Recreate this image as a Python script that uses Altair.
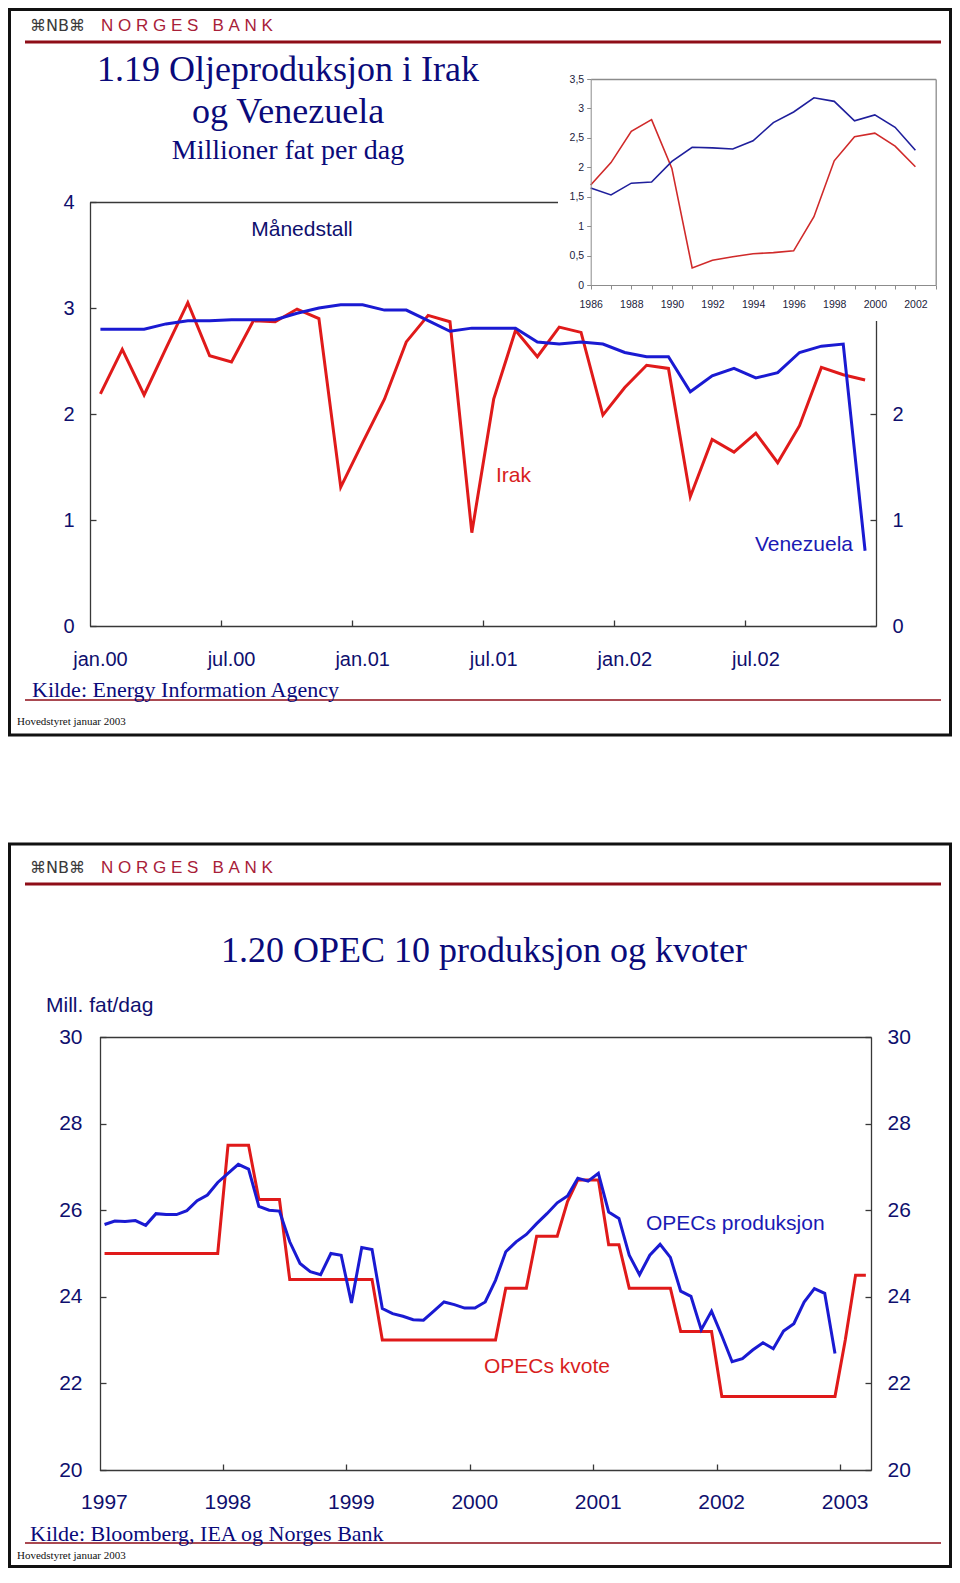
import json
import altair as alt
import pandas as pd

# ---------------- data ----------------
# 1.19 monthly, jan.2000 - des.2002, million barrels per day
IRAK_MONTHLY = [2.19, 2.61, 2.18, 2.62, 3.05, 2.55, 2.49, 2.88, 2.87, 2.99, 2.90, 1.31,
                1.73, 2.14, 2.68, 2.93, 2.87, 0.88, 2.14, 2.79, 2.54, 2.82, 2.77, 1.99,
                2.25, 2.46, 2.43, 1.22, 1.76, 1.64, 1.82, 1.54, 1.89, 2.44, 2.37, 2.32]
VENEZUELA_MONTHLY = [2.80, 2.80, 2.80, 2.85, 2.88, 2.88, 2.89, 2.89, 2.89, 2.95, 3.00, 3.03,
                     3.03, 2.98, 2.98, 2.88, 2.78, 2.81, 2.81, 2.81, 2.68, 2.66, 2.68, 2.66,
                     2.58, 2.54, 2.54, 2.21, 2.36, 2.43, 2.34, 2.39, 2.58, 2.64, 2.66, 0.71]
MONTHLY_TICK_LABELS = ["jan.00", "jul.00", "jan.01", "jul.01", "jan.02", "jul.02"]

# inset, annual 1986 - 2002
ANNUAL_YEARS = [1986, 1987, 1988, 1989, 1990, 1991, 1992, 1993, 1994, 1995, 1996,
                1997, 1998, 1999, 2000, 2001, 2002]
IRAK_ANNUAL = [1.70, 2.08, 2.61, 2.81, 1.98, 0.29, 0.42, 0.48, 0.53, 0.55, 0.58,
               1.16, 2.11, 2.52, 2.58, 2.36, 2.01]
VENEZUELA_ANNUAL = [1.65, 1.53, 1.73, 1.75, 2.10, 2.34, 2.33, 2.31, 2.45, 2.76, 2.94,
                    3.18, 3.12, 2.79, 2.89, 2.68, 2.29]

# 1.20 OPEC 10, monthly from jan.1997
OPEC_PRODUCTION = [25.67, 25.75, 25.74, 25.76, 25.65, 25.92, 25.90, 25.90, 25.99, 26.22, 26.35, 26.64,
                   26.85, 27.06, 26.95, 26.09, 26.00, 25.98, 25.27, 24.77, 24.58, 24.51, 25.00, 24.96,
                   23.86, 25.14, 25.09, 23.73, 23.61, 23.55, 23.47, 23.46, 23.67, 23.88, 23.82, 23.74,
                   23.74, 23.88, 24.38, 25.04, 25.27, 25.44, 25.69, 25.92, 26.17, 26.33, 26.74, 26.67,
                   26.85, 25.96, 25.81, 24.96, 24.51, 24.96, 25.21, 24.91, 24.13, 24.01, 23.24, 23.67,
                   23.10, 22.50, 22.57, 22.77, 22.94, 22.80, 23.21, 23.38, 23.88, 24.19, 24.08, 22.69]
OPEC_QUOTA = [25.0, 25.0, 25.0, 25.0, 25.0, 25.0, 25.0, 25.0, 25.0, 25.0, 25.0, 25.0,
              27.5, 27.5, 27.5, 26.25, 26.25, 26.25, 24.4, 24.4, 24.4, 24.4, 24.4, 24.4,
              24.4, 24.4, 24.4, 23.0, 23.0, 23.0, 23.0, 23.0, 23.0, 23.0, 23.0, 23.0,
              23.0, 23.0, 23.0, 24.2, 24.2, 24.2, 25.4, 25.4, 25.4, 26.2, 26.7, 26.7,
              26.7, 25.2, 25.2, 24.2, 24.2, 24.2, 24.2, 24.2, 23.2, 23.2, 23.2, 23.2,
              21.7, 21.7, 21.7, 21.7, 21.7, 21.7, 21.7, 21.7, 21.7, 21.7, 21.7, 21.7,
              23.0, 24.5, 24.5]
OPEC_YEAR_LABELS = ["1997", "1998", "1999", "2000", "2001", "2002", "2003"]

# ---------------- tables ----------------
monthly = pd.DataFrame({"m": [i + 0.5 for i in range(len(IRAK_MONTHLY))],
                        "irak": IRAK_MONTHLY, "ven": VENEZUELA_MONTHLY})
annual = pd.DataFrame({"year": ANNUAL_YEARS, "irak": IRAK_ANNUAL, "ven": VENEZUELA_ANNUAL})
prod = pd.DataFrame({"m": [i + 0.5 for i in range(len(OPEC_PRODUCTION))], "v": OPEC_PRODUCTION})
quota = pd.DataFrame({"m": [i + 0.5 for i in range(len(OPEC_QUOTA))], "v": OPEC_QUOTA})
one = pd.DataFrame({"k": [0]})

# ---------------- layout helpers ----------------
W, H = 944, 1560


def cx(X):
    return X - 8


def cy(Y):
    return Y - 8


SANS = "Liberation Sans"
SERIF = "Liberation Serif"
NAVY = "#0f0f6e"
TITLE = "#0a0a7a"
FRAME = "#383838"
GREY = "#8c8c8c"
RED = "#e01a1a"
BLUE = "#1a1ad2"
HEAD_RED = "#8e0d17"
NB_RED = "#a82038"


def ax(orient, offset, **kw):
    d = dict(orient=orient, offset=offset, title="", grid=False,
             labelFlush=False, labelOverlap=False)
    d.update(kw)
    return alt.Axis(**d)


def label_axis(orient, offset, values, size, pad, **kw):
    return ax(orient, offset, values=values, ticks=False, tickSize=0, domain=True,
              domainColor=kw.pop("domainColor", FRAME), domainWidth=1.3,
              labelFont=SANS, labelFontSize=size, labelColor=NAVY, labelPadding=pad, **kw)


def tick_axis(orient, offset, values, size=6, color=FRAME, **kw):
    return ax(orient, offset, values=values, labels=False, domain=False, ticks=True,
              tickSize=size, tickColor=color, tickWidth=1.3, **kw)


def line_axis(orient, offset, color=FRAME, **kw):
    return ax(orient, offset, labels=False, ticks=False, domain=True,
              domainColor=color, domainWidth=1.3, **kw)


# ---------------- chart 1.19 : monthly ----------------
S1X = alt.Scale(domain=[0, 36], range=[cx(89.5), cx(876)], nice=False, zero=False)
S1Y = alt.Scale(domain=[0, 4], range=[cy(626), cy(202)], nice=False, zero=False)
m_expr = json.dumps(MONTHLY_TICK_LABELS) + "[round(datum.value / 6)]"

irak_line = alt.Chart(monthly).mark_line(color=RED, strokeWidth=3).encode(
    x=alt.X("m:Q", scale=S1X, axis=label_axis(
        "bottom", cy(626) - H, [0, 6, 12, 18, 24, 30], 20, 39,
        labelExpr=m_expr, labelOffset=10.5, labelBaseline="alphabetic")),
    y=alt.Y("irak:Q", scale=S1Y, axis=label_axis(
        "left", -cx(90), [0, 1, 2, 3, 4], 20, 16, labelBaseline="middle")),
)
ven_line = alt.Chart(monthly).mark_line(color=BLUE, strokeWidth=3).encode(
    x=alt.X("m:Q", scale=S1X, axis=tick_axis("top", -cy(626), [6, 12, 18, 24, 30])),
    y=alt.Y("ven:Q", scale=S1Y, axis=tick_axis("right", cx(90) - W, [0, 1, 2, 3, 4])),
)
carrier1 = alt.Chart(monthly).mark_line(strokeOpacity=0).encode(
    x=alt.X("m:Q", scale=S1X, axis=line_axis("top", -cy(202))),
    y=alt.Y("ven:Q", scale=S1Y, axis=label_axis(
        "right", cx(876) - W, [0, 1, 2], 20, 16, labelBaseline="middle")),
)
carrier2 = alt.Chart(monthly).mark_line(strokeOpacity=0).encode(
    x=alt.X("m:Q", scale=S1X, axis=None),
    y=alt.Y("ven:Q", scale=S1Y, axis=tick_axis("left", -cx(876), [0, 1, 2, 3])),
)

# white panel behind the inset
inset_bg = alt.Chart(one).mark_rect(fill="white").encode(
    x=alt.value(cx(558)), x2=alt.value(cx(947)), y=alt.value(cy(50)), y2=alt.value(cy(321)))

# ---------------- inset : annual ----------------
SIX = alt.Scale(domain=[1986, 2003], range=[cx(590.7), cx(935.7)], nice=False, zero=False)
SIY = alt.Scale(domain=[0, 3.5], range=[cy(285), cy(79)], nice=False, zero=False)
INSET_LABEL = dict(labelFont=SANS, labelFontSize=10.5, labelColor="#1c1c3c")

irak_ann = alt.Chart(annual).mark_line(color="#d02a2a", strokeWidth=1.6).encode(
    x=alt.X("year:Q", scale=SIX, axis=ax(
        "bottom", cy(285) - H, values=list(range(1986, 2004)), format="d",
        labelExpr="datum.value % 2 == 0 && datum.value < 2003 ? datum.label : ''",
        ticks=True, tickSize=4, tickColor=GREY, domain=True, domainColor=GREY,
        labelPadding=18, labelBaseline="alphabetic", zindex=1, **INSET_LABEL)),
    y=alt.Y("irak:Q", scale=SIY, axis=ax(
        "left", -cx(590.7), values=[0, 0.5, 1, 1.5, 2, 2.5, 3, 3.5],
        labelExpr="replace(format(datum.value, '.1~f'), '.', ',')",
        ticks=True, tickSize=4, tickColor=GREY, domain=True, domainColor=GREY,
        labelPadding=3, labelBaseline="middle", zindex=1, **INSET_LABEL)),
)
ven_ann = alt.Chart(annual).mark_line(color="#1f1f9c", strokeWidth=1.6).encode(
    x=alt.X("year:Q", scale=SIX, axis=line_axis("top", -cy(79), color=GREY, zindex=1)),
    y=alt.Y("ven:Q", scale=SIY, axis=line_axis("right", cx(935.7) - W, color=GREY, zindex=1)),
)

# ---------------- chart 1.20 : OPEC ----------------
S2X = alt.Scale(domain=[0, 75], range=[cx(99.4), cx(871)], nice=False, zero=False)
S2Y = alt.Scale(domain=[20, 30], range=[cy(1470), cy(1037)], nice=False, zero=False)
y_expr = json.dumps(OPEC_YEAR_LABELS) + "[round(datum.value / 12)]"
Y2_VALUES = [20, 22, 24, 26, 28, 30]

quota_line = alt.Chart(quota).mark_line(color=RED, strokeWidth=3).encode(
    x=alt.X("m:Q", scale=S2X, axis=label_axis(
        "bottom", cy(1470) - H, [0, 12, 24, 36, 48, 60, 72], 21, 38,
        labelExpr=y_expr, labelOffset=4.5, labelBaseline="alphabetic")),
    y=alt.Y("v:Q", scale=S2Y, axis=label_axis(
        "left", -cx(100), Y2_VALUES, 21, 18, labelBaseline="middle")),
)
prod_line = alt.Chart(prod).mark_line(color=BLUE, strokeWidth=3).encode(
    x=alt.X("m:Q", scale=S2X, axis=tick_axis("top", -cy(1470), [12, 24, 36, 48, 60, 72])),
    y=alt.Y("v:Q", scale=S2Y, axis=tick_axis("right", cx(100) - W, Y2_VALUES)),
)
carrier3 = alt.Chart(prod).mark_line(strokeOpacity=0).encode(
    x=alt.X("m:Q", scale=S2X, axis=line_axis("top", -cy(1037))),
    y=alt.Y("v:Q", scale=S2Y, axis=label_axis(
        "right", cx(871) - W, Y2_VALUES, 21, 16, labelBaseline="middle")),
)
carrier4 = alt.Chart(prod).mark_line(strokeOpacity=0).encode(
    x=alt.X("m:Q", scale=S2X, axis=None),
    y=alt.Y("v:Q", scale=S2Y, axis=tick_axis("left", -cx(871), Y2_VALUES)),
)


# ---------------- texts, rules, frames ----------------
def text(t, X, Y, size, font=SANS, color=NAVY, align="left", **kw):
    return alt.Chart(one).mark_text(text=t, font=font, fontSize=size, color=color,
                                    align=align, baseline="alphabetic", **kw).encode(
        x=alt.value(cx(X)), y=alt.value(cy(Y)))


def hrule(X1, X2, Y, color, width):
    return alt.Chart(one).mark_rule(color=color, strokeWidth=width).encode(
        x=alt.value(cx(X1)), x2=alt.value(cx(X2)), y=alt.value(cy(Y)))


def frame(Y1, Y2):
    return alt.Chart(one).mark_rect(fillOpacity=0, stroke="#111111", strokeWidth=3).encode(
        x=alt.value(1.5), x2=alt.value(W - 1.5), y=alt.value(Y1), y2=alt.value(Y2))


NBSP = "\u00a0"
LOGO = "\u2318NB\u2318"
BANK = NBSP.join("NORGES") + NBSP * 3 + NBSP.join("BANK")

texts = [
    # slide 1
    text(LOGO, 30, 31, 16, font="DejaVu Sans", color="#3a3a3a"),
    text(BANK, 101, 31, 17, color=NB_RED),
    text("1.19 Oljeproduksjon i Irak", 288, 81, 36, font=SERIF, color=TITLE, align="center"),
    text("og Venezuela", 288, 123, 36, font=SERIF, color=TITLE, align="center"),
    text("Millioner fat per dag", 288, 159, 28, font=SERIF, color=TITLE, align="center"),
    text("Månedstall", 302, 236, 21, align="center"),
    text("Irak", 496, 482, 21, color="#d81e1e"),
    text("Venezuela", 853, 551, 21, color="#1a1ab4", align="right"),
    text("Kilde: Energy Information Agency", 32, 697, 22, font=SERIF, color=TITLE),
    text("Hovedstyret januar 2003", 17, 725, 11, font=SERIF, color="#111111"),
    # slide 2
    text(LOGO, 30, 873, 16, font="DejaVu Sans", color="#3a3a3a"),
    text(BANK, 101, 873, 17, color=NB_RED),
    text("1.20 OPEC 10 produksjon og kvoter", 484, 962, 36, font=SERIF, color=TITLE,
         align="center"),
    text("Mill. fat/dag", 46, 1012, 21),
    text("OPECs produksjon", 646, 1230, 21, color="#1a1ab4"),
    text("OPECs kvote", 484, 1373, 21, color="#d81e1e"),
    text("Kilde: Bloomberg, IEA og Norges Bank", 30, 1541, 22, font=SERIF, color=TITLE),
    text("Hovedstyret januar 2003", 17, 1559, 11, font=SERIF, color="#111111"),
]

rules = [
    hrule(25, 941, 42, HEAD_RED, 3),
    hrule(25, 941, 700, HEAD_RED, 1.5),
    hrule(25, 941, 884, HEAD_RED, 3),
    hrule(25, 941, 1543, HEAD_RED, 1.5),
]

frames = [frame(1.5, cy(735)), frame(cy(844), H - 1.5)]

layers = ([irak_line, ven_line, carrier1, carrier2, inset_bg, irak_ann, ven_ann,
           quota_line, prod_line, carrier3, carrier4] + rules + texts + frames)

chart = alt.layer(*layers).resolve_scale(
    x="independent", y="independent"
).resolve_axis(
    x="independent", y="independent"
).properties(
    width=W, height=H, padding=0, autosize=alt.AutoSizeParams(type="none")
).configure_view(strokeWidth=0).configure_axis(grid=False)

chart.save("out.html", embed_options={"renderer": "svg", "actions": False})
